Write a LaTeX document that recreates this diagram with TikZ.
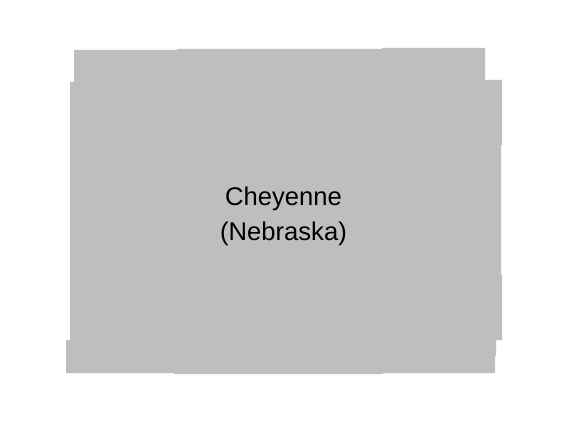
\documentclass[tikz,border=0pt]{standalone}
\usepackage{fontspec}
\setmainfont{Liberation Sans}
\definecolor{regiongray}{RGB}{190,190,190}
\tikzset{region/.style={fill=regiongray,draw=none},
  regionlabel/.style={align=center,text=black,font=\fontsize{25.6}{35}\selectfont,inner sep=0pt}}
\begin{document}
\begin{tikzpicture}[x=1pt,y=-1pt]
\useasboundingbox (0,0) rectangle (568,422);
\fill[white] (0,0) rectangle (568,422);
\path[region] (74,50) -- (177,50) -- (177,49) -- (382,49) -- (382,48) -- (485,48) -- (485,80) -- (502,80)
  -- (502,145) -- (501,145) -- (501,275) -- (502,275)
  -- (502,340) -- (496,340) -- (496,356) -- (495,356) -- (495,373) -- (383,373) -- (383,374) -- (174,374)
  -- (174,373) -- (66,373) -- (66,340) -- (70,340) -- (70,82) -- (74,82) -- cycle;
\node[regionlabel] (label) at (283.5,216) {Cheyenne\\(Nebraska)};
\end{tikzpicture}
\end{document}
